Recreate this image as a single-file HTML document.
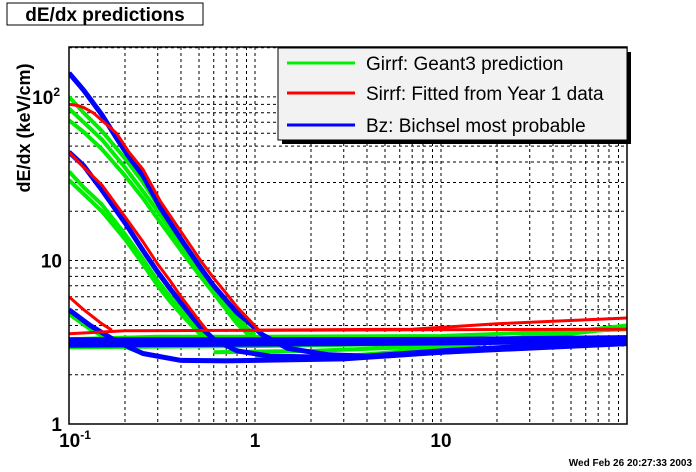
<!DOCTYPE html>
<html><head><meta charset="utf-8"><style>
body{margin:0;background:#fff;}
svg{display:block;font-family:"Liberation Sans",sans-serif;}
</style></head><body>
<svg id="c" width="696" height="472" viewBox="0 0 696 472">
<rect x="0" y="0" width="696" height="472" fill="#fff"/>
<rect x="7" y="3" width="196" height="22" fill="#fff" stroke="#000" stroke-width="1"/>
<text x="105" y="21" text-anchor="middle" font-size="19" font-weight="bold">dE/dx predictions</text>
<defs><clipPath id="clip"><rect x="69" y="47" width="558" height="377"/></clipPath></defs>
<g id="grid"></g>
<g id="series" clip-path="url(#clip)"></g>
<rect x="69" y="47" width="558" height="377" fill="none" stroke="#000" stroke-width="1.5"/>
<g id="labels"></g>
<text transform="translate(30,128) rotate(-90)" text-anchor="middle" font-size="18" font-weight="bold">dE/dx (keV/cm)</text>
<text x="692" y="466" text-anchor="end" font-size="10" font-weight="bold">Wed Feb 26 20:27:33 2003</text>
<g>
<rect x="282" y="52" width="349" height="92" fill="#000"/>
<rect x="278" y="48" width="349" height="92" fill="#f2f2f2" stroke="#000" stroke-width="1"/>
<line x1="287" y1="63" x2="355" y2="63" stroke="#00ee00" stroke-width="3"/>
<text x="366" y="70" font-size="19">Girrf: Geant3 prediction</text>
<line x1="287" y1="93" x2="355" y2="93" stroke="#f00" stroke-width="3"/>
<text x="366" y="100" font-size="19">Sirrf: Fitted from Year 1 data</text>
<line x1="287" y1="125" x2="355" y2="125" stroke="#00f" stroke-width="3"/>
<text x="366" y="132" font-size="19">Bz: Bichsel most probable</text>
</g>
</svg>
<script>
const xTickValues=[0.1,1,10];
const xTickLabels=["10^-1","1","10"];
const yTickValues=[1,10,100];
const yTickLabels=["1","10","10^2"];
const seriesNames=["girrf","sirrf","bz"];
// green (Girrf)
const greenP1=[[0.1,100],[0.12,80],[0.15,62],[0.2,42],[0.25,30],[0.3,22],[0.4,13.5],[0.5,9.5],[0.6,7],[0.7,5.5],[0.8,4.5],[0.9,3.9],[1.0,3.5]];
const greenP2=[[0.1,85],[0.12,70],[0.15,55],[0.2,37],[0.25,26.5],[0.3,20],[0.4,12.5],[0.5,8.8],[0.6,6.6],[0.7,5.2],[0.8,4.3],[0.9,3.7],[1.0,3.4]];
const greenP3=[[0.1,72],[0.12,61],[0.15,48],[0.2,33],[0.25,24],[0.3,18],[0.4,11.5],[0.5,8.2],[0.6,6.3],[0.7,5.0],[0.8,4.1],[0.95,3.4]];
const greenK1=[[0.1,35],[0.12,28],[0.15,22],[0.2,14.5],[0.25,10.2],[0.3,7.5],[0.35,6],[0.4,5],[0.5,3.8],[0.6,3.2]];
const greenK2=[[0.1,31],[0.12,25.5],[0.15,20],[0.2,13.5],[0.25,9.5],[0.3,7],[0.35,5.6],[0.4,4.7],[0.5,3.6],[0.6,3.1]];
const greenPi=[[0.1,4.7],[0.13,3.8],[0.18,3.1],[0.25,2.7],[0.4,2.45],[1,2.45],[3,2.55],[10,2.75],[100,3.2]];
const greenFlat1=[[0.1,2.95],[1,3.0],[10,3.1],[100,3.4]];
const greenFlat2=[[0.1,3.3],[0.3,3.42],[1,3.42],[10,3.45],[100,3.8]];
const greenRise=[[1,2.55],[3,2.6],[10,2.9],[100,3.9]];
const greenRise2=[[0.6,2.75],[2,2.8],[10,3.0],[100,4.0]];
// red (Sirrf)
const redP=[[0.1,90],[0.11,89],[0.12,86],[0.135,80],[0.15,72],[0.18,60],[0.21,46],[0.25,36],[0.31,23],[0.4,15],[0.51,10],[0.6,7.8],[0.7,6.3],[0.8,5.2],[0.92,4.4],[1.05,3.75]];
const redK=[[0.1,46],[0.12,37],[0.15,29],[0.2,18.5],[0.25,13],[0.3,9.5],[0.35,7.5],[0.4,6],[0.5,4.3],[0.55,3.75]];
const redPi=[[0.1,6],[0.12,5],[0.15,4.1],[0.17,3.75]];
const redFlat=[[0.1,3.56],[0.2,3.72],[100,3.8]];
const redRise=[[1,3.75],[7,3.8],[20,4.1],[100,4.45]];
// blue (Bz)
const blueP=[[0.1,140],[0.12,110],[0.15,78],[0.18,56],[0.21,43],[0.25,33],[0.31,21],[0.4,13.5],[0.51,9],[0.6,7],[0.7,5.7],[0.8,4.8],[0.92,4.2],[1.1,3.5],[1.5,2.9],[2.5,2.65],[4,2.6],[10,2.8],[30,3.0],[100,3.2]];
const blueK=[[0.1,46],[0.12,38],[0.15,27],[0.2,17],[0.25,11.5],[0.3,8.5],[0.35,6.7],[0.4,5.5],[0.5,4.0],[0.6,3.3],[0.8,2.8],[1.2,2.6],[3,2.55],[10,2.75],[100,3.2]];
const bluePi=[[0.1,5.0],[0.13,4.0],[0.18,3.2],[0.25,2.7],[0.4,2.45],[0.7,2.43],[1,2.45],[3,2.5],[10,2.75],[100,3.1]];
const blueFlat1=[[0.1,3.25],[1,3.25],[10,3.27],[100,3.35]];
const blueFlat2=[[0.1,3.05],[1,3.1],[10,3.15],[100,3.25]];

const X0=69,X1=627,Y0=424,Y1=47;
const xmin=-1,xmax=2,ymin=0,ymax=Math.log10(202);
function sx(v){return X0+(Math.log10(v)-xmin)/(xmax-xmin)*(X1-X0);}
function sy(v){return Y0-(Math.log10(v)-ymin)/(ymax-ymin)*(Y0-Y1);}
const NS="http://www.w3.org/2000/svg";
const grid=document.getElementById('grid');
for(let d=-1;d<2;d++)for(let m=1;m<10;m++){const v=m*Math.pow(10,d);const x=sx(v);if(x<=X0+1)continue;
 const l=document.createElementNS(NS,'line');l.setAttribute('x1',x);l.setAttribute('x2',x);l.setAttribute('y1',Y1);l.setAttribute('y2',Y0);
 l.setAttribute('stroke','#000');l.setAttribute('stroke-dasharray','3,3');l.setAttribute('stroke-width','1');
 
 
 grid.appendChild(l);}
for(let d=0;d<3;d++)for(let m=1;m<10;m++){const v=m*Math.pow(10,d);if(v>202)break;const y=sy(v);if(y>=Y0-1)continue;
 const l=document.createElementNS(NS,'line');l.setAttribute('x1',X0);l.setAttribute('x2',X1);l.setAttribute('y1',y);l.setAttribute('y2',y);
 l.setAttribute('stroke','#000');l.setAttribute('stroke-dasharray','3,3');l.setAttribute('stroke-width','1');
 
 
 grid.appendChild(l);}
const lab=document.getElementById('labels');
function addLabel(x,y,s,anchor,name){const t=document.createElementNS(NS,'text');t.setAttribute('x',x);t.setAttribute('y',y);t.setAttribute('text-anchor',anchor);
 t.setAttribute('font-size','19');t.setAttribute('font-weight','bold');
 const parts=s.split('^');t.textContent=parts[0];
 if(parts[1]){const ts=document.createElementNS(NS,'tspan');ts.setAttribute('font-size','12');ts.setAttribute('dy','-8');ts.textContent=parts[1];t.appendChild(ts);}
 
 
 lab.appendChild(t);}
xTickValues.forEach((v,i)=>addLabel(sx(v)+(i==0?6:0),447,xTickLabels[i],'middle','x-tick-label'));
yTickValues.forEach((v,i)=>addLabel(i==2?60:62,sy(v)+7,yTickLabels[i],'end','y-tick-label'));
const ser=document.getElementById('series');
function draw(pts,color,w,name){const p=document.createElementNS(NS,'polyline');
 p.setAttribute('points',pts.map(q=>sx(q[0]).toFixed(1)+','+sy(q[1]).toFixed(1)).join(' '));
 p.setAttribute('fill','none');p.setAttribute('stroke',color);p.setAttribute('stroke-width',w);p.setAttribute('stroke-linejoin','round');
 
 
 ser.appendChild(p);}
const G='#00ee00',R='#ff0000',B='#0000ff';
[greenP1,greenP2,greenP3,greenK1,greenK2,greenPi,greenFlat1,greenFlat2,greenRise,greenRise2].forEach(c=>draw(c,G,4,'girrf-curve'));
[blueFlat1,blueFlat2].forEach(c=>draw(c,B,6,'bz-curve'));
[blueP,blueK,bluePi].forEach(c=>draw(c,B,5,'bz-curve'));
[redP,redK,redPi,redFlat,redRise].forEach(c=>draw(c,R,3,'sirrf-curve'));
</script>
</body></html>
